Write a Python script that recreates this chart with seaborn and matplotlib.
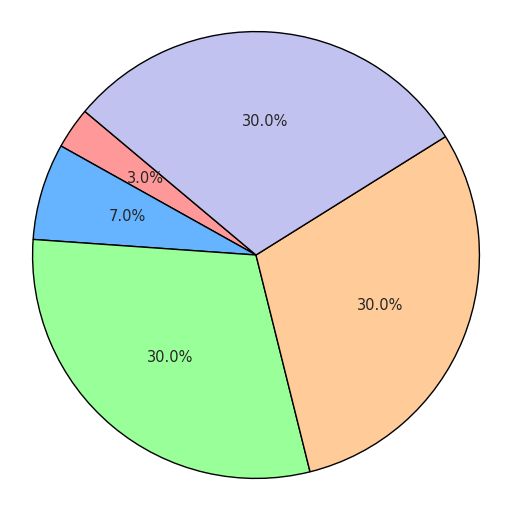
import matplotlib
matplotlib.use("Agg")
import matplotlib.pyplot as plt
import seaborn as sns

sizes = [3, 7, 30, 30, 30]
colors = ["#ff9999", "#66b3ff", "#99ff99", "#ffcc99", "#c2c2f0"]

sns.set_theme(style="white")
plt.rcParams['font.family'] = ['DejaVu Sans']

fig, ax = plt.subplots(figsize=(5.12, 5.09), dpi=100)
ax.pie(sizes, colors=colors, autopct='%1.1f%%', startangle=140,
       wedgeprops={'edgecolor': 'black', 'linewidth': 1},
       textprops={'fontsize': 10.5})
ax.axis('equal')
plt.subplots_adjust(left=0.02, right=0.98, top=0.978, bottom=0.02)
plt.savefig("out.png", dpi=100)
